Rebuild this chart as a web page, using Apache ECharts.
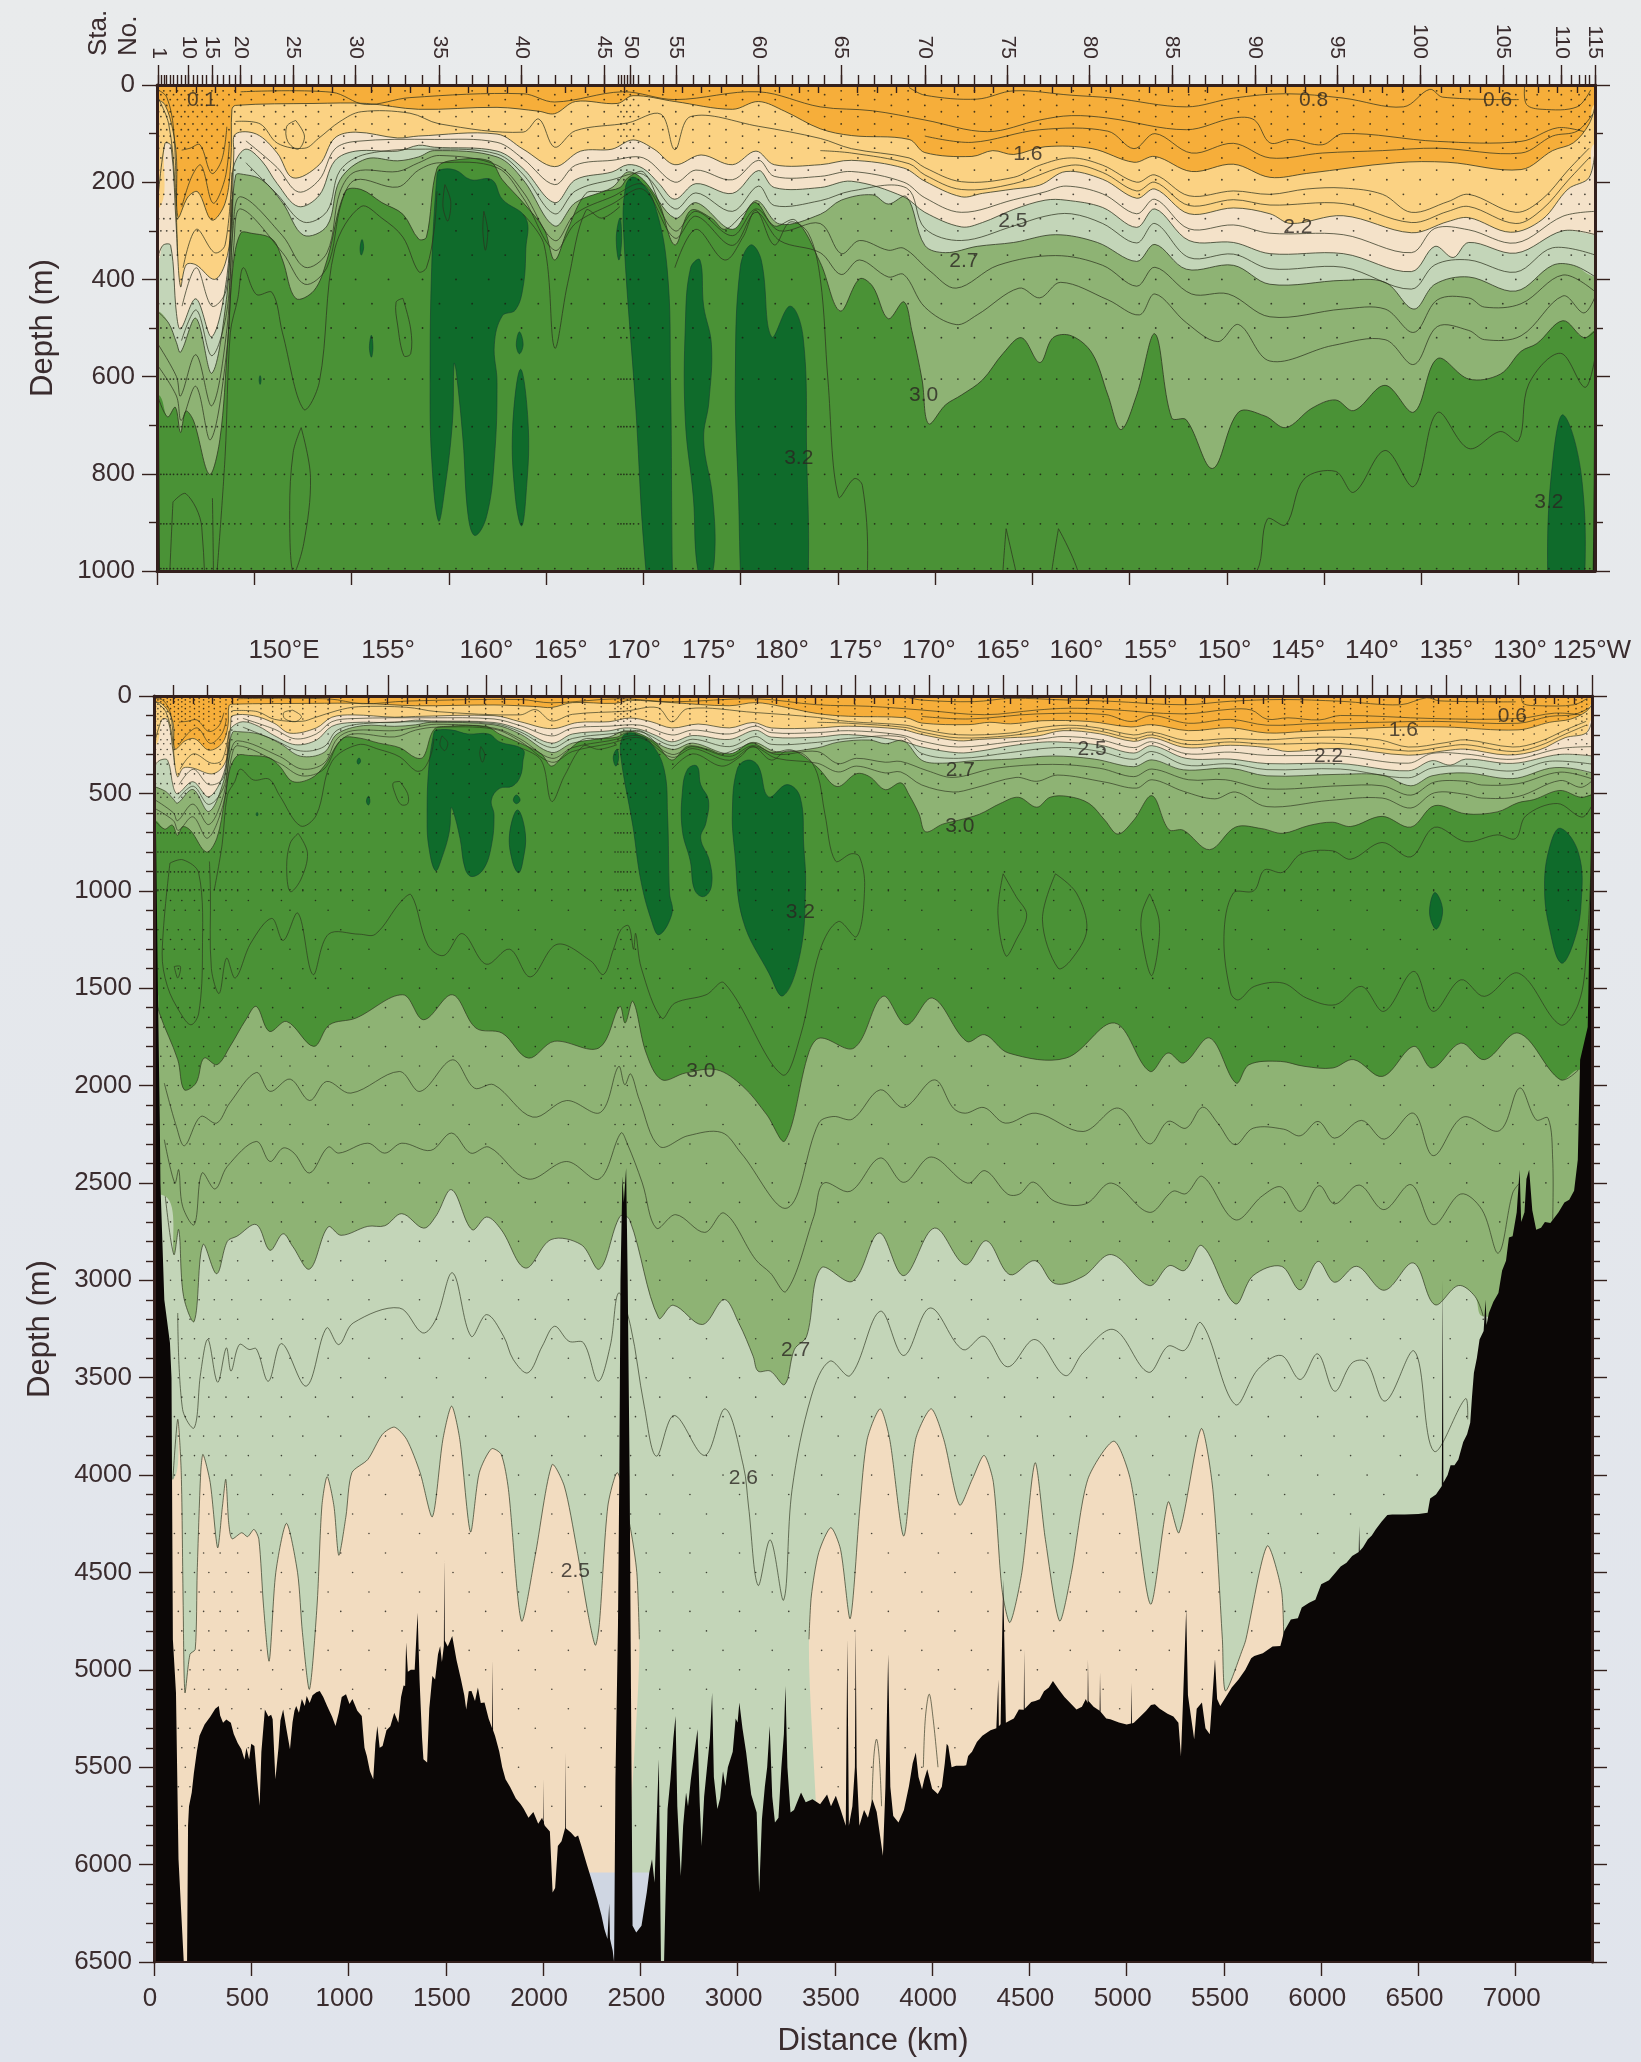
<!DOCTYPE html>
<html><head><meta charset="utf-8">
<style>html,body{margin:0;padding:0;background:#e6e8ec}#c{width:1641px;height:2062px}</style>
<script src="https://cdn.jsdelivr.net/npm/echarts@6/dist/echarts.min.js"></script>
</head><body><div id="c"></div>
<script>
// Isotherm boundaries of the colour bands: [distance km, depth m]
const iso16=[[0,30],[40,40],[80,90],[100,150],[108,272],[160,230],[210,220],[282,278],[350,243],[380,155],[385,51],[403,42],[807,38],[1076,38],[1345,50],[1748,46],[1963,54],[2044,59],[2151,34],[2366,38],[2447,22],[2662,34],[2958,50],[3092,34],[3227,54],[3409,90],[3570,104],[3866,112],[3947,139],[4189,147],[4296,135],[4404,143],[4565,127],[4807,131],[5022,159],[5130,147],[5318,178],[5533,163],[5721,190],[5910,182],[6367,160],[6636,159],[7012,174],[7174,135],[7281,119],[7362,80],[7394,40]];
const iso22=[[0,257],[41,120],[72,125],[100,300],[121,415],[150,370],[200,370],[295,400],[350,368],[380,297],[395,140],[403,101],[511,101],[618,140],[699,191],[834,164],[914,109],[1022,97],[1237,109],[1345,105],[1748,101],[1882,132],[2044,168],[2178,136],[2339,132],[2447,113],[2555,132],[2662,164],[2797,144],[2958,164],[3079,136],[3173,164],[3410,164],[3570,155],[3839,171],[3947,198],[4135,230],[4243,223],[4404,214],[4538,206],[4673,178],[4861,194],[5036,233],[5130,214],[5305,265],[5533,253],[5721,265],[5829,285],[6098,269],[6448,304],[6636,281],[6743,273],[6958,303],[7120,277],[7254,214],[7362,190],[7394,120]];
const iso25=[[0,360],[30,330],[70,330],[100,470],[121,502],[200,440],[282,518],[360,392],[385,200],[400,160],[457,132],[538,156],[618,203],[726,250],[834,227],[914,156],[1022,136],[1237,136],[1345,124],[1425,128],[1748,136],[1882,172],[2044,242],[2151,195],[2339,179],[2420,164],[2500,172],[2581,203],[2662,235],[2770,203],[2958,223],[3092,176],[3173,211],[3410,211],[3570,198],[3839,230],[3947,262],[4135,292],[4243,283],[4404,256],[4565,237],[4673,237],[4861,252],[5036,293],[5130,255],[5305,320],[5533,324],[5721,347],[6098,347],[6448,384],[6569,332],[6663,355],[6743,324],[6985,346],[7227,300],[7394,308]];
const iso27=[[0,465],[60,490],[100,530],[121,550],[200,480],[282,593],[360,430],[385,260],[405,185],[430,183],[538,195],[645,242],[753,309],[874,290],[941,195],[1076,152],[1237,156],[1345,148],[1425,135],[1748,148],[1882,195],[2044,290],[2151,242],[2339,211],[2420,179],[2500,195],[2662,274],[2770,242],[2958,297],[3079,238],[3200,286],[3410,266],[3517,237],[3678,226],[3759,245],[3853,230],[3947,330],[4054,345],[4216,332],[4404,324],[4619,308],[4834,324],[5036,363],[5130,328],[5291,379],[5533,371],[5721,410],[6098,402],[6313,406],[6461,461],[6569,410],[6743,395],[6985,424],[7174,371],[7281,371],[7394,395]];
const iso30=[[0,636],[54,683],[94,663],[121,715],[148,671],[188,691],[269,801],[323,730],[363,534],[390,376],[430,305],[484,305],[592,317],[645,360],[713,439],[807,423],[874,360],[968,219],[1049,215],[1156,242],[1264,266],[1345,317],[1385,313],[1439,172],[1506,156],[1708,156],[1775,195],[1882,242],[1990,297],[2044,360],[2111,297],[2205,223],[2286,219],[2380,211],[2420,191],[2500,179],[2581,242],[2662,329],[2743,258],[2850,274],[2918,297],[3012,266],[3079,242],[3173,290],[3281,278],[3409,365],[3511,465],[3611,399],[3678,414],[3759,481],[3839,446],[3880,505],[3933,607],[3966,697],[4054,658],[4135,638],[4243,607],[4350,552],[4444,520],[4538,571],[4606,520],[4700,516],[4807,552],[4888,638],[4955,709],[5036,638],[5130,512],[5216,685],[5291,689],[5426,789],[5560,673],[5695,681],[5802,705],[5937,665],[6058,648],[6152,670],[6313,618],[6461,673],[6582,563],[6743,605],[6905,595],[7012,548],[7093,532],[7227,485],[7335,520],[7394,505]];
const iso30deep=[[0,1500],[28,1628],[122,1867],[155,2021],[216,1987],[257,1859],[324,1893],[391,1799],[472,1662],[526,1594],[593,1722],[682,1671],[821,1799],[902,1688],[1037,1654],[1279,1534],[1386,1662],[1534,1534],[1655,1705],[1790,1731],[1924,1859],[2058,1773],[2287,1807],[2394,1594],[2422,1679],[2462,1568],[2530,1833],[2610,1970],[2731,1936],[2892,1919],[3027,2004],[3150,2150],[3244,2283],[3367,1827],[3424,1756],[3599,1807],[3747,1542],[3868,1688],[4002,1551],[4177,1773],[4271,1739],[4392,1833],[4688,1859],[4938,1679],[5118,1927],[5212,1833],[5293,1884],[5427,1756],[5562,1987],[5629,1893],[5790,1876],[5911,1901],[6059,1910],[6167,1867],[6315,1953],[6476,1799],[6570,1910],[6718,1782],[6839,1867],[7014,1731],[7229,1970],[7323,1919]];
const iso27deep=[[58,2569],[102,2868],[127,2740],[152,3082],[207,3210],[252,2817],[322,2966],[377,2800],[426,2774],[526,2714],[596,2846],[663,2761],[713,2826],[800,2942],[895,2726],[962,2769],[1099,2723],[1186,2720],[1274,2658],[1386,2732],[1448,2672],[1530,2535],[1635,2740],[1710,2675],[1785,2740],[1909,2937],[2041,2791],[2196,2817],[2290,2942],[2395,2672],[2445,2689],[2594,3193],[2669,3128],[2819,3227],[2931,3099],[3006,3219],[3080,3390],[3105,3466],[3168,3466],[3242,3535],[3292,3355],[3355,3287],[3429,2937],[3591,3005],[3728,2757],[3854,2976],[4012,2732],[4170,2920],[4279,2797],[4400,2971],[4529,2899],[4631,3017],[4776,2980],[4922,2868],[5116,3027],[5218,2925],[5298,2949],[5387,2822],[5557,3120],[5650,2976],[5795,2928],[5892,3048],[5984,2903],[6069,3010],[6183,2928],[6324,3051],[6474,2911],[6584,3125],[6705,3027],[6790,3082],[6833,3185]];
const iso25deep=[[97,4022],[122,3714],[140,3988],[150,4670],[159,5117],[185,4920],[212,4895],[222,4501],[240,3988],[252,3894],[289,4039],[327,4373],[352,4159],[369,4022],[384,4245],[401,4327],[451,4296],[481,4316],[514,4279],[539,4330],[563,4672],[592,4955],[626,4501],[681,4248],[738,4501],[763,4809],[799,5100],[838,4672],[863,4159],[890,4008],[925,4159],[950,4412],[987,4210],[1017,3988],[1099,3920],[1174,3791],[1236,3754],[1299,3817],[1368,3988],[1431,4214],[1485,3817],[1530,3646],[1572,3817],[1627,4292],[1672,3988],[1735,3865],[1785,3894],[1822,4074],[1889,4749],[1959,4416],[2046,3947],[2109,4056],[2171,4364],[2233,4723],[2269,4874],[2290,4757],[2333,4159],[2383,3988],[2450,4279],[2482,4501],[2495,4843],[2506,6700],[3345,6700],[3367,4843],[3379,4621],[3417,4398],[3479,4270],[3529,4381],[3579,4737],[3629,4159],[3666,3817],[3733,3660],[3782,3817],[3854,4313],[3915,3817],[3995,3660],[4060,3817],[4141,4154],[4206,4022],[4267,3899],[4315,4039],[4359,4587],[4400,4757],[4461,4501],[4529,3937],[4582,4330],[4655,4749],[4716,4501],[4800,4022],[4934,3826],[5019,4022],[5123,4663],[5213,4138],[5269,4296],[5383,3762],[5443,4074],[5492,4843],[5508,5108],[5602,4878],[5613,4843],[5722,4364],[5795,4587],[5807,4843],[5815,6700]];
// Thin contour lines
const lineS1=[[430,14],[900,15],[1070,40],[1300,26],[1882,18],[2044,35],[2393,14],[2662,30],[3092,14],[3409,45],[3678,53],[3947,72],[4269,96],[4538,72],[4700,63],[4888,68],[5291,92],[5533,68],[5641,72],[5721,119],[5829,112],[5990,123],[6098,100],[6582,116],[7012,116],[7200,88],[7335,96]];
const line08=[[3866,5],[3947,21],[4216,29],[4404,12],[4700,21],[4915,27],[5291,45],[5533,27],[5800,18],[6098,27],[6407,45],[6542,9],[6609,25],[7000,30]];
const line14=[[3947,105],[4189,118],[4538,92],[4888,95],[5022,131],[5130,100],[5318,140],[5533,120],[5721,150],[5990,140],[6300,135],[6582,130],[7012,140],[7174,105],[7300,95],[7380,60]];
const line18=[[403,75],[530,80],[620,120],[760,130],[830,110],[941,75],[1050,55],[1300,58],[1452,80],[1882,97],[1963,70],[2044,128],[2151,94],[2420,78],[2590,60],[2662,133],[2743,65],[3092,85],[3410,110],[3570,131],[3866,150],[3947,170],[4135,199],[4404,190],[4538,165],[4700,150],[4861,165],[5036,200],[5130,185],[5305,228],[5533,218],[5721,225],[5910,214],[6098,212],[6300,225],[6448,262],[6636,240],[6743,225],[6985,262],[7120,235],[7254,175],[7362,130]];
const line20=[[3410,135],[3570,140],[3866,162],[3947,185],[4135,215],[4404,203],[4700,165],[4861,180],[5036,218],[5130,200],[5305,248],[5533,236],[5721,247],[6098,244],[6448,283],[6636,260],[6743,250],[6985,285],[7120,256],[7254,196],[7362,150]];
const line23=[[457,115],[618,170],[726,220],[834,195],[914,132],[1022,116],[1425,112],[1748,118],[1882,152],[2044,205],[2151,165],[2339,155],[2500,150],[2662,200],[2770,175],[2958,195],[3092,155],[3173,188],[3410,188],[3570,178],[3839,200],[3947,232],[4135,262],[4404,236],[4565,220],[4673,208],[4861,224],[5036,265],[5130,235],[5305,296],[5533,288],[5721,305],[6098,308],[6448,345],[6569,295],[6743,298],[6985,325],[7227,270],[7394,260]];
const line26=[[457,160],[618,225],[753,282],[874,260],[941,176],[1076,142],[1425,132],[1748,142],[1882,184],[2044,265],[2151,218],[2339,195],[2500,184],[2662,255],[2770,222],[2958,260],[3092,208],[3173,248],[3410,238],[3570,218],[3853,212],[3947,295],[4135,320],[4404,290],[4565,270],[4700,265],[4861,285],[5036,325],[5130,285],[5305,355],[5533,348],[5721,378],[6098,375],[6448,420],[6569,370],[6743,360],[6985,385],[7174,335],[7394,350]];
const line28=[[0,530],[100,600],[121,640],[200,555],[282,660],[360,500],[390,300],[430,230],[645,310],[760,375],[874,345],[941,220],[1022,178],[1237,178],[1345,160],[1452,145],[1748,165],[1882,220],[2044,320],[2151,265],[2339,230],[2500,205],[2662,300],[2770,260],[2958,310],[3079,255],[3200,300],[3409,285],[3517,347],[3611,320],[3759,340],[3839,336],[3974,383],[4108,418],[4323,371],[4619,351],[4861,371],[5036,414],[5130,375],[5318,430],[5507,430],[5721,477],[6098,461],[6313,461],[6461,509],[6582,442],[6743,438],[6824,457],[7012,450],[7227,391],[7394,426]];
const line29=[[0,575],[100,640],[125,690],[200,620],[275,730],[355,560],[395,330],[430,255],[645,345],[760,410],[874,375],[950,240],[1022,195],[1237,210],[1345,175],[1452,160],[1748,170],[1882,232],[2044,340],[2151,285],[2339,245],[2500,215],[2662,315],[2770,270],[2958,330],[3079,262],[3200,320],[3409,345],[3517,390],[3611,360],[3759,395],[3839,390],[3947,457],[4108,493],[4216,473],[4431,418],[4538,438],[4646,406],[4888,442],[5050,473],[5130,430],[5291,489],[5453,528],[5560,493],[5721,568],[6044,536],[6313,524],[6461,575],[6582,497],[6743,505],[6824,524],[7012,516],[7227,434],[7335,469],[7394,434]];
const lineCol1=[[127,134],[170,130],[221,123],[281,182],[333,154],[359,86]];
const lineCol2=[[128,250],[179,188],[226,165],[288,243],[348,195],[372,120]];
const lineCol3=[[134,376],[202,297],[296,345],[350,329],[385,180]];
const lineCol4=[[129,455],[202,376],[282,455],[355,423],[382,235]];
const lineCol5=[[126,526],[202,463],[282,557],[363,455],[390,219]];
const lineWest1=[[5,10],[50,25],[85,90],[100,250]];
const lineWest2=[[10,30],[60,80],[92,200],[105,350]];
const lineEast1=[[7030,3],[7040,40],[7120,50],[7300,45],[7370,10]];
const line31a=[[309,1000],[350,764],[377,510],[415,440],[444,376],[511,431],[592,427],[645,510],[753,667],[834,612],[914,337],[1049,250],[1156,274],[1264,313],[1345,384],[1385,376],[1425,297],[1439,219]];
const line31b=[[1882,266],[1990,329],[2044,541],[2111,408],[2205,258],[2286,274],[2380,250]];
const line31c=[[2662,376],[2770,297],[2918,360],[3012,313],[3079,258],[3173,329],[3254,282],[3348,305],[3410,400],[3449,607],[3503,847],[3584,810],[3626,824],[3653,978],[3612,1235],[3518,1158],[3424,1303],[3322,1748],[3228,1944],[2932,1474],[2838,1534],[2677,1577],[2610,1654],[2505,1397],[2476,1219],[2465,1300],[2440,1180],[2400,1200],[2362,1300],[2310,1430],[2245,1360],[2072,1275],[1935,1442],[1828,1300],[1707,1377],[1585,1220],[1490,1332],[1408,1280],[1323,1022],[1269,1056],[1138,1223],[1056,1223],[897,1223],[817,1430],[740,1115],[664,1255],[605,1142],[498,1268],[418,1448],[373,1346],[335,1527],[295,1400],[290,1000],[285,850]];
const line31d=[[7389,567],[7340,622],[7214,552],[7052,615],[6999,732],[6905,713],[6743,748],[6582,674],[6461,826],[6313,752],[6152,838],[6058,795],[5896,811],[5802,905],[5708,893],[5654,1000],[5548,1012],[5500,1235],[5535,1525],[5575,1560],[5656,1491],[5804,1474],[5925,1551],[6073,1585],[6207,1491],[6323,1619],[6476,1414],[6575,1619],[6718,1457],[6839,1542],[7014,1423],[7229,1688],[7323,1577],[7363,1320],[7390,807]];
const line29deep=[[53,1988],[115,2210],[157,2309],[240,2159],[322,2193],[389,2090],[526,1933],[596,2030],[700,1967],[800,2077],[887,1979],[1012,2039],[1261,1928],[1368,2030],[1535,1868],[1647,2013],[1747,1996],[1947,2162],[2121,2077],[2295,2138],[2388,1902],[2420,1996],[2450,1940],[2495,2073],[2599,2313],[2744,2258],[2918,2241],[3018,2347],[3255,2629],[3417,2193],[3491,2159],[3591,2172],[3733,2022],[3854,2113],[4012,1971],[4109,2116],[4170,2142],[4267,2113],[4376,2193],[4534,2142],[4776,2236],[4958,2116],[5116,2299],[5213,2184],[5305,2219],[5390,2111],[5468,2193],[5557,2304],[5650,2219],[5807,2224],[5892,2258],[5984,2184],[6069,2270],[6207,2179],[6324,2275],[6474,2142],[6576,2360],[6729,2162],[6916,2232],[7020,2013],[7105,2176],[7166,2167],[7190,2381],[7190,2689]];
const line28deep=[[53,2278],[107,2501],[127,2432],[147,2620],[207,2714],[247,2449],[314,2531],[377,2415],[526,2287],[596,2390],[663,2321],[720,2347],[800,2449],[895,2316],[950,2347],[1099,2296],[1186,2347],[1274,2296],[1423,2333],[1530,2244],[1628,2347],[1722,2316],[1922,2480],[2121,2390],[2288,2480],[2400,2244],[2432,2296],[2510,2500],[2582,2732],[2682,2663],[2831,2754],[2931,2655],[3093,2894],[3168,2962],[3250,3056],[3392,2672],[3442,2501],[3579,2543],[3733,2372],[3854,2497],[3995,2367],[4182,2501],[4272,2437],[4388,2557],[4449,2557],[4521,2496],[4631,2595],[4788,2608],[4922,2501],[5116,2651],[5237,2543],[5305,2555],[5390,2467],[5557,2689],[5698,2566],[5795,2521],[5892,2646],[5989,2514],[6069,2608],[6195,2511],[6322,2637],[6462,2509],[6576,2714],[6717,2557],[6826,2637],[6911,2860],[6984,2552],[7020,2501]];
const line26deep=[[122,3168],[147,3663],[207,3757],[240,3475],[277,3304],[327,3523],[372,3347],[396,3466],[439,3330],[489,3355],[526,3352],[588,3518],[656,3325],[783,3543],[887,3245],[950,3330],[1024,3219],[1261,3142],[1381,3270],[1448,3202],[1535,2962],[1630,3287],[1710,3176],[1797,3287],[1847,3407],[1922,3475],[1996,3338],[2059,3236],[2133,3313],[2208,3321],[2283,3518],[2345,3338],[2388,3065],[2450,3236],[2520,3646],[2582,3903],[2674,3694],[2831,3899],[2936,3660],[3030,3954],[3056,4159],[3105,4566],[3168,4333],[3237,4641],[3280,4074],[3379,3595],[3474,3415],[3579,3489],[3733,3159],[3854,3386],[3990,3142],[4158,3356],[4267,3287],[4388,3444],[4529,3304],[4684,3489],[4776,3372],[4934,3253],[5111,3472],[5213,3338],[5298,3359],[5383,3219],[5557,3637],[5674,3458],[5795,3386],[5892,3509],[5982,3378],[6069,3569],[6159,3424],[6232,3420],[6329,3620],[6479,3364],[6579,3877],[6741,3608],[6753,3714]];
// Closed contour loops
const loopW=[[82,858],[149,841],[230,910],[249,1320],[230,1628],[190,1688],[136,1628],[69,1491],[42,1320],[82,858]];
const loopW2=[[104,1389],[136,1389],[122,1448],[104,1389]];
const loop700=[[741,705],[789,807],[754,944],[700,1004],[682,876],[700,756],[741,705]];
const loopA=[[4365,913],[4432,1030],[4486,1124],[4432,1252],[4379,1334],[4338,1115],[4365,913]];
const loopB=[[4634,913],[4742,1012],[4795,1200],[4715,1354],[4647,1397],[4567,1149],[4634,913]];
const loopC=[[5118,1016],[5166,1149],[5158,1320],[5126,1435],[5078,1235],[5078,1115],[5118,1016]];
const loopD=[[1264,439],[1304,502],[1304,553],[1269,557],[1237,494],[1229,447],[1264,439]];
const loopE=[[713,73],[758,105],[726,132],[672,116],[667,85],[713,73]];
const loopF=[[1480,205],[1510,240],[1495,280],[1470,250],[1480,205]];
const loopG=[[1680,260],[1700,300],[1688,340],[1675,300],[1680,260]];
const loopH=[[3690,5700],[3700,5450],[3714,5356],[3728,5450],[3740,5700]];
const loopI=[[3955,5500],[3965,5250],[3985,5125],[4005,5250],[4030,5500]];
// Warmest water (3.2 degree) patches
const warm1=[[1452,175],[1533,175],[1613,195],[1721,195],[1775,235],[1896,274],[1896,337],[1882,415],[1842,463],[1775,475],[1734,534],[1748,612],[1734,770],[1694,888],[1635,927],[1600,888],[1573,730],[1538,589],[1527,573],[1519,691],[1479,833],[1447,897],[1412,770],[1404,612],[1412,376],[1439,187]];
const warm2=[[1869,585],[1909,707],[1896,848],[1874,907],[1842,848],[1828,707]];
const warm3=[[1863,508],[1882,534],[1863,553],[1847,534]];
const warm4=[[2408,211],[2440,190],[2487,199],[2555,242],[2622,376],[2640,612],[2650,1012],[2663,1115],[2596,1226],[2556,1149],[2502,944],[2462,670],[2398,297]];
const warm5=[[2380,274],[2388,321],[2374,360],[2361,313]];
const warm6=[[2791,360],[2810,455],[2850,534],[2837,652],[2810,730],[2856,848],[2865,978],[2825,1030],[2779,995],[2757,848],[2716,691],[2716,494],[2743,376]];
const warm7=[[3052,329],[3106,360],[3159,518],[3254,455],[3321,518],[3340,770],[3349,978],[3322,1320],[3234,1539],[3161,1423],[3027,1149],[2986,807],[2973,602],[2998,376]];
const warm8=[[7229,679],[7323,807],[7336,1064],[7296,1269],[7234,1371],[7175,1200],[7148,978],[7175,773]];
const warm9=[[6584,1009],[6624,1098],[6592,1197],[6557,1115]];
const warm10=[[1054,318],[1062,335],[1050,350],[1044,335]];
const warm11=[[1102,515],[1110,540],[1102,560],[1092,540]];
const warm12=[[530,598],[535,607],[530,616],[525,607]];
// Sea floor profile
const bottomKm=[[0,0],[8,500],[20,1500],[30,2200],[33,2500],[53,3100],[82,3322],[90,3500],[97,4843],[113,5117],[126,5972],[153,6500],[170,6500],[175,5801],[180,5700],[194,5630],[205,5530],[220,5420],[234,5339],[260,5280],[290,5240],[315,5200],[333,5185],[340,5235],[355,5271],[372,5255],[395,5271],[410,5330],[430,5375],[449,5408],[465,5460],[475,5400],[489,5459],[500,5380],[516,5391],[530,5560],[543,5698],[552,5420],[570,5203],[588,5240],[602,5230],[610,5254],[624,5562],[640,5400],[650,5260],[664,5203],[680,5300],[699,5408],[712,5270],[722,5210],[731,5185],[745,5220],[760,5150],[775,5185],[785,5134],[800,5170],[815,5130],[835,5115],[852,5108],[870,5140],[890,5185],[915,5240],[933,5288],[950,5220],[965,5140],[987,5125],[1005,5175],[1020,5150],[1045,5210],[1068,5237],[1082,5400],[1094,5442],[1110,5520],[1127,5562],[1138,5380],[1148,5288],[1160,5400],[1175,5391],[1195,5310],[1215,5290],[1235,5220],[1256,5271],[1270,5140],[1283,5080],[1291,5083],[1296,4860],[1305,5010],[1320,5000],[1340,5000],[1355,4707],[1365,5050],[1378,5350],[1385,5459],[1404,5476],[1415,5200],[1431,5032],[1445,5050],[1460,4920],[1471,4878],[1480,4960],[1490,4878],[1492,4433],[1495,4850],[1510,4880],[1533,4826],[1555,4950],[1578,5049],[1595,5130],[1605,5203],[1618,5110],[1632,5108],[1650,5160],[1665,5090],[1680,5170],[1699,5168],[1720,5250],[1738,5300],[1740,4950],[1743,5310],[1753,5339],[1775,5420],[1790,5500],[1807,5562],[1830,5600],[1860,5660],[1885,5690],[1901,5715],[1925,5760],[1950,5730],[1975,5790],[1995,5760],[2002,5780],[2003,5560],[2005,5790],[2009,5801],[2035,5830],[2049,6143],[2062,6120],[2076,5904],[2095,5880],[2114,5810],[2116,5425],[2118,5815],[2143,5835],[2165,5860],[2180,5850],[2197,5904],[2225,6000],[2250,6080],[2278,6177],[2300,6260],[2315,6330],[2331,6382],[2340,6200],[2344,6380],[2358,6442],[2365,6500],[2372,5562],[2385,4775],[2392,4000],[2398,3000],[2408,2466],[2415,2600],[2427,2424],[2435,3000],[2445,4000],[2452,5117],[2460,6314],[2479,6348],[2506,6314],[2533,6143],[2546,6040],[2560,5972],[2573,6092],[2595,5459],[2606,6500],[2622,6500],[2640,5715],[2655,5560],[2670,5350],[2681,5237],[2690,5700],[2708,6058],[2720,5800],[2735,5630],[2745,5700],[2760,5560],[2775,5450],[2794,5305],[2805,5680],[2815,5904],[2828,5650],[2845,5480],[2858,5350],[2869,5117],[2878,5550],[2896,5715],[2910,5660],[2925,5520],[2937,5596],[2950,5500],[2975,5420],[2990,5250],[3000,5270],[3009,5168],[3025,5300],[3044,5425],[3070,5640],[3098,5733],[3111,6143],[3125,5767],[3140,5600],[3152,5500],[3165,5288],[3178,5650],[3192,5784],[3210,5760],[3225,5500],[3238,5330],[3246,5083],[3256,5500],[3272,5733],[3290,5720],[3326,5630],[3350,5680],[3385,5664],[3424,5690],[3460,5640],[3480,5700],[3505,5647],[3530,5720],[3556,5801],[3564,4843],[3572,5801],[3590,5700],[3603,5500],[3607,4784],[3612,5500],[3626,5801],[3650,5720],[3670,5760],[3693,5664],[3715,5730],[3747,5955],[3760,5600],[3774,4920],[3785,5600],[3800,5750],[3827,5784],[3855,5720],[3881,5596],[3900,5480],[3916,5425],[3930,5550],[3948,5613],[3960,5560],[3975,5510],[4000,5610],[4029,5638],[4050,5600],[4065,5480],[4075,5380],[4083,5391],[4100,5500],[4123,5493],[4163,5493],[4175,5490],[4185,5442],[4205,5420],[4230,5370],[4258,5339],[4300,5310],[4330,5300],[4340,5050],[4343,5290],[4352,5279],[4365,4536],[4379,5271],[4400,5260],[4420,5250],[4446,5203],[4471,5205],[4473,4895],[4476,5200],[4510,5165],[4530,5160],[4553,5151],[4575,5110],[4600,5090],[4621,5057],[4650,5100],[4680,5140],[4710,5170],[4742,5203],[4770,5190],[4790,5150],[4799,5170],[4801,4946],[4804,5160],[4830,5190],[4861,5210],[4863,5014],[4866,5215],[4895,5250],[4916,5254],[4960,5270],[5000,5280],[5022,5275],[5024,5066],[5027,5275],[5037,5271],[5070,5240],[5100,5210],[5125,5180],[5145,5177],[5170,5200],[5210,5225],[5240,5240],[5266,5271],[5279,5442],[5290,5150],[5306,4689],[5315,5130],[5347,5356],[5360,5200],[5387,5168],[5405,5300],[5427,5331],[5440,5150],[5454,4946],[5465,5150],[5481,5185],[5510,5140],[5540,5090],[5575,5049],[5610,5000],[5640,4940],[5656,4929],[5700,4915],[5750,4880],[5790,4878],[5810,4800],[5844,4741],[5880,4735],[5900,4680],[5938,4655],[5970,4640],[6000,4560],[6040,4540],[6073,4501],[6100,4470],[6130,4450],[6159,4416],[6193,4395],[6195,4262],[6198,4390],[6215,4370],[6240,4330],[6260,4310],[6280,4279],[6310,4240],[6340,4205],[6365,4202],[6430,4202],[6500,4200],[6547,4193],[6560,4120],[6590,4100],[6620,4056],[6625,2997],[6628,4040],[6650,4000],[6665,3950],[6685,3950],[6705,3920],[6730,3830],[6750,3790],[6766,3731],[6775,3600],[6785,3475],[6800,3400],[6814,3304],[6835,3260],[6845,3100],[6850,3230],[6862,3168],[6885,3110],[6911,3065],[6930,2950],[6950,2900],[6965,2780],[6984,2774],[7005,2650],[7020,2432],[7028,2700],[7045,2650],[7055,2480],[7069,2432],[7085,2640],[7105,2740],[7130,2730],[7150,2700],[7178,2706],[7220,2650],[7250,2600],[7275,2586],[7300,2540],[7319,2381],[7331,1868],[7370,1700],[7385,900],[7392,200],[7392,0]];
const deepBasin=[[2200,6040],[2560,6040],[2560,6700],[2200,6700]];
// Axes
const stationKm=[8,20,35,50,68,85,105,125,143,161,185,208,232,255,282,310,340,370,400,430,485,550,610,655,699,765,830,895,960,1021,1105,1190,1275,1365,1452,1537,1620,1705,1790,1874,1960,2045,2130,2215,2299,2370,2385,2400,2415,2433,2450,2475,2530,2600,2667,2755,2840,2925,3010,3093,3178,3263,3348,3432,3517,3603,3689,3775,3861,3947,4032,4117,4202,4287,4372,4456,4541,4625,4710,4794,4879,4964,5049,5134,5219,5304,5389,5474,5559,5643,5728,5812,5897,5982,6066,6151,6236,6322,6407,6493,6578,6663,6748,6833,6918,6985,7040,7095,7155,7219,7270,7310,7340,7365,7392];
const stationLabels=[1,10,15,20,25,30,35,40,45,50,55,60,65,70,75,80,85,90,95,100,105,110,115];
const lonKm=[668,1203,1709,2091,2467,2852,3228,3607,3983,4365,4742,5123,5503,5882,6261,6643,7022,7392];
const lonLabels=['150°E','155°','160°','165°','170°','175°','180°','175°','170°','165°','160°','155°','150°','145°','140°','135°','130°','125°W'];
const lonMinorKm=[100,273,445,558,775,882,989,1096,1304,1405,1506,1608,1785,1862,1938,2015,2166,2241,2316,2392,2544,2621,2698,2775,2927,3002,3077,3153,3304,3380,3456,3531,3682,3757,3832,3908,4059,4135,4212,4288,4440,4515,4591,4666,4818,4894,4971,5047,5199,5275,5351,5427,5579,5655,5730,5806,5958,6034,6110,6185,6337,6413,6490,6567,6719,6795,6871,6946,7096,7170,7244,7318];
const kmMajor=[0,500,1000,1500,2000,2500,3000,3500,4000,4500,5000,5500,6000,6500,7000];
const kmMinor=[100,200,300,400,600,700,800,900,1100,1200,1300,1400,1600,1700,1800,1900,2100,2200,2300,2400,2600,2700,2800,2900,3100,3200,3300,3400,3600,3700,3800,3900,4100,4200,4300,4400,4600,4700,4800,4900,5100,5200,5300,5400,5600,5700,5800,5900,6100,6200,6300,6400,6600,6700,6800,6900,7100,7200,7300];
// Sampling depths by station group
const samplesUpper=[[12,30,55,80,105,130,175,225,275,350,450,520,605,703,801,903,995],[20,42,65,92,118,150,195,245,300,400,500,605,703,801,903,995]];
const samplesDeep=[[1100,1300,1500,1700,1900,2200,2500,2800,3100,3400,3700,4000,4300,4600,4900,5200,5500,5800],[1000,1200,1400,1600,1800,2000,2300,2600,2900,3200,3500,3800,4100,4400,4700,5000,5300,5600],[1050,1250,1450,1650,1850,2100,2400,2700,3000,3300,3600,3900,4200,4500,4800,5100,5400,5700]];
const labelsUpper=[['0.1',229,31],['3.2',3299,768],['3.0',3941,639],['2.7',4148,363],['2.5',4399,281],['1.6',4477,142],['2.2',5864,292],['0.8',5945,31],['0.6',6891,31],['3.2',7155,859]];
const labelsLower=[['3.2',3322,1112],['3.0',2811,1927],['3.0',4142,670],['2.7',4145,380],['2.5',4822,274],['2.2',6038,308],['1.6',6422,178],['0.6',6982,106],['2.7',3298,3359],['2.6',3030,4014],['2.5',2166,4496]];

const KM_MAX=7392, FONT='"Liberation Sans",Helvetica,Arial,sans-serif', INK='#3a2c2e', AX='#33201d';
const C={sand:'#f2dcc0',pale:'#c3d5b8',midlight:'#8eb374',mid:'#4a9236',warm:'#0f6b2b',cream:'#f4e2c9',lorange:'#fbd283',dorange:'#f6ae3a',basin:'#cfd6e2',black:'#0b0706'};

function bottomAt(km){for(let i=1;i<bottomKm.length;i++){if(km<=bottomKm[i][0]){const a=bottomKm[i-1],b=bottomKm[i];return a[1]+(b[1]-a[1])*(km-a[0])/Math.max(1,b[0]-a[0]);}}return 0;}

const xAxis=[],yAxis=[],series=[];
function tickAxis(grid,pos,vals,len,opt){
  const o=Object.assign({type:'value',gridIndex:grid,position:pos,min:0,max:KM_MAX,z:10,splitLine:{show:false},
    axisLine:{show:false},axisTick:{show:true,customValues:vals,length:len,lineStyle:{color:AX,width:1.4}},axisLabel:{show:false}},opt||{});
  xAxis.push(o);return xAxis.length-1;
}
function yAx(grid,pos,max,iv,split,labels,name){
  yAxis.push({type:'value',gridIndex:grid,position:pos,inverse:true,min:0,max,interval:iv,z:10,splitLine:{show:false},
    axisLine:{show:true,onZero:false,lineStyle:{color:AX,width:3}},
    axisTick:{show:true,length:15,lineStyle:{color:AX,width:1.4}},
    minorTick:{show:true,splitNumber:split,length:8,lineStyle:{color:AX,width:1.4}},
    axisLabel:{show:labels,margin:22,fontSize:26,fontFamily:FONT,color:INK,formatter:v=>String(v)},
    name:name||'',nameLocation:'middle',nameRotate:90,nameGap:98,nameTextStyle:{fontSize:31,fontFamily:FONT,color:INK}});
  return yAxis.length-1;
}
const xMain0=tickAxis(0,'bottom',kmMajor,14,{axisLine:{show:true,onZero:false,lineStyle:{color:AX,width:3}}});
tickAxis(0,'bottom',kmMinor,8);
tickAxis(0,'top',stationKm,10);
tickAxis(0,'top',stationLabels.map(n=>stationKm[n-1]),20,{axisLine:{show:true,onZero:false,lineStyle:{color:AX,width:3}},
  axisLabel:{show:true,customValues:stationLabels.map(n=>stationKm[n-1]),rotate:90,margin:26,fontSize:21,fontFamily:FONT,color:INK,hideOverlap:false,
    formatter:v=>String(stationLabels[stationLabels.findIndex(n=>stationKm[n-1]===v)])}});
const xMain1=tickAxis(1,'bottom',kmMajor,14,{axisLine:{show:true,onZero:false,lineStyle:{color:AX,width:2}},
  axisLabel:{show:true,customValues:kmMajor,margin:24,padding:[0,8,0,0],fontSize:26,fontFamily:FONT,color:INK,formatter:v=>String(v)},
  name:'Distance (km)',nameLocation:'middle',nameGap:64,nameTextStyle:{fontSize:31,fontFamily:FONT,color:INK}});
tickAxis(1,'bottom',kmMinor,8);
tickAxis(1,'top',lonMinorKm,11);
tickAxis(1,'top',lonKm,21,{axisLine:{show:true,onZero:false,lineStyle:{color:AX,width:3}},
  axisLabel:{show:true,customValues:lonKm,margin:32,fontSize:26,fontFamily:FONT,color:INK,hideOverlap:false,
    formatter:v=>lonLabels[lonKm.indexOf(v)]}});
const yMain0=yAx(0,'left',1000,200,2,true,'Depth (m)'); yAx(0,'right',1000,200,2,false);
const yMain1=yAx(1,'left',6500,500,5,true,'Depth (m)'); yAx(1,'right',6500,500,5,false);

function addPoly(p,pts,fill,smooth,stroke){
  series.push({type:'custom',coordinateSystem:'cartesian2d',xAxisIndex:p.x,yAxisIndex:p.y,clip:true,silent:true,animation:false,data:pts,
    renderItem:(params,api)=>{ if(params.dataIndex!==0)return;
      return {type:'polygon',shape:{points:pts.map(q=>api.coord(q)),smooth:smooth},style:{fill:fill,stroke:stroke||'none',lineWidth:stroke?0.7:0}};}});
}
function addLine(p,pts,color,w,smooth){
  series.push({type:'custom',coordinateSystem:'cartesian2d',xAxisIndex:p.x,yAxisIndex:p.y,clip:true,silent:true,animation:false,data:pts,
    renderItem:(params,api)=>{ if(params.dataIndex!==0)return;
      return {type:'polyline',shape:{points:pts.map(q=>api.coord(q)),smooth:smooth},style:{fill:'none',stroke:color,lineWidth:w}};}});
}
function band(pts){const a=pts[0],b=pts[pts.length-1];return [[-400,a[1]],...pts,[7800,b[1]],[7800,-900],[-400,-900]];}
function shallowRuns(pts){const runs=[];let r=[];pts.forEach(q=>{if(q[1]<6000)r.push(q);else{if(r.length)runs.push(r);r=[];}});if(r.length)runs.push(r);return runs;}

const LINE='rgba(44,50,30,0.85)';
[{x:xMain0,y:yMain0,w:0.9,dot:1.8,labels:labelsUpper},{x:xMain1,y:yMain1,w:0.8,dot:1.6,labels:labelsLower}].forEach(p=>{
  const S=0.35;
  addPoly(p,band(iso25deep),C.pale,0.25);
  addPoly(p,band(iso27deep),C.midlight,S);
  addPoly(p,band(iso30deep),C.mid,S);
  addPoly(p,band(iso30),C.midlight,S);
  addPoly(p,band(iso27),C.pale,S);
  addPoly(p,band(iso25),C.cream,S);
  addPoly(p,band(iso22),C.lorange,S);
  addPoly(p,band(iso16),C.dorange,S);
  [warm1,warm2,warm3,warm4,warm5,warm6,warm7,warm8,warm9,warm10,warm11,warm12].forEach(b=>addPoly(p,b,C.warm,0.4,'rgba(20,60,50,0.8)'));
  [iso16,iso22,iso25,iso27,iso30,iso30deep,iso27deep].forEach(l=>addLine(p,l,LINE,p.w,S));
  shallowRuns(iso25deep).forEach(l=>addLine(p,l,LINE,p.w,0.25));
  [lineS1,line08,line14,line18,line20,line23,line26,line28,line29,lineCol1,lineCol2,lineCol3,lineCol4,lineCol5,lineWest1,lineWest2,lineEast1,
   line31a,line31b,line31c,line31d,line29deep,line28deep,line26deep,loopW,loopW2,loop700,loopA,loopB,loopC,loopD,loopE,loopF,loopG,loopH,loopI].forEach(l=>addLine(p,l,LINE,p.w*0.95,S));
  addPoly(p,deepBasin,C.basin,0);
  addPoly(p,[...bottomKm,[7800,0],[7800,7000],[-100,7000],[-100,0]],C.black,0);
  const dots=[];
  stationKm.forEach((km,i)=>{
    samplesUpper[i%2].forEach(d=>dots.push([km,d]));
    samplesDeep[i%3].forEach(d=>{if(d<bottomAt(km)-30)dots.push([km,d]);});
  });
  series.push({type:'scatter',xAxisIndex:p.x,yAxisIndex:p.y,symbolSize:p.dot,silent:true,animation:false,clip:true,itemStyle:{color:'#1d1c14'},data:dots.filter(d=>d[1]<bottomAt(d[0]))});
  series.push({type:'scatter',xAxisIndex:p.x,yAxisIndex:p.y,symbolSize:0,silent:true,animation:false,
    data:p.labels.map(l=>({value:[l[1],l[2]],name:l[0]})),
    label:{show:true,position:'inside',formatter:o=>o.name,fontSize:21,fontFamily:FONT,color:'#2a2622'}});
});

const chart=echarts.init(document.getElementById('c'),null,{renderer:'canvas'});
chart.setOption({
  animation:false,
  backgroundColor:{type:'linear',x:0,y:0,x2:0,y2:1,colorStops:[{offset:0,color:'#e9ebec'},{offset:1,color:'#e0e4ec'}]},
  grid:[{left:157,top:85,width:1438,height:486,show:true,backgroundColor:C.sand,borderWidth:0},
        {left:154,top:696,width:1438,height:1267,show:true,backgroundColor:C.sand,borderWidth:0}],
  xAxis,yAxis,series,
  graphic:[
    {type:'text',x:99,y:56,rotation:Math.PI/2,style:{text:'Sta.',fontSize:26,fontFamily:FONT,fill:INK,textAlign:'left',textVerticalAlign:'middle'}},
    {type:'text',x:129,y:56,rotation:Math.PI/2,style:{text:'No.',fontSize:26,fontFamily:FONT,fill:INK,textAlign:'left',textVerticalAlign:'middle'}}
  ]
});
</script></body></html>
